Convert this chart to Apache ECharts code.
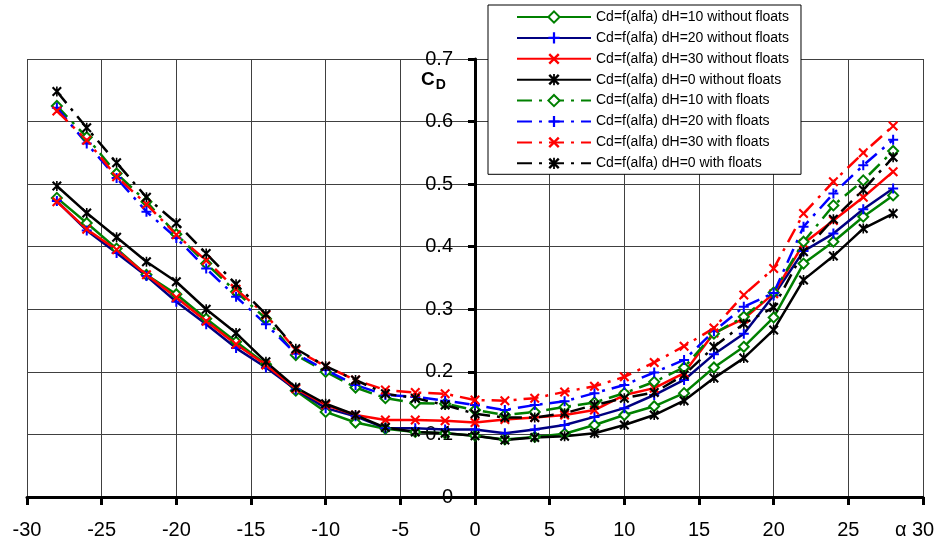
<!DOCTYPE html>
<html>
<head>
<meta charset="utf-8">
<script src="https://cdn.jsdelivr.net/npm/echarts@6/dist/echarts.min.js"></script>
<style>html,body{margin:0;padding:0;background:#fff}#c{width:945px;height:548px}</style>
</head>
<body>
<div id="c"></div>
<script>
// angle of attack, degrees
const alpha = [-28,-26,-24,-22,-20,-18,-16,-14,-12,-10,-8,-6,-4,-2,0,2,4,6,8,10,12,14,16,18,20,22,24,26,28];

// without floats (solid)
const cdH10 = [0.478,0.438,0.397,0.355,0.324,0.285,0.248,0.212,0.170,0.136,0.119,0.109,0.104,0.102,0.098,0.092,0.096,0.101,0.115,0.131,0.145,0.166,0.207,0.240,0.287,0.373,0.408,0.448,0.482];
const cdH20 = [0.473,0.426,0.390,0.353,0.312,0.276,0.238,0.207,0.172,0.142,0.129,0.110,0.110,0.108,0.108,0.102,0.108,0.115,0.128,0.142,0.163,0.187,0.228,0.261,0.322,0.393,0.421,0.460,0.493];
const cdH30 = [0.472,0.428,0.395,0.355,0.319,0.281,0.244,0.211,0.173,0.147,0.131,0.123,0.123,0.122,0.119,0.124,0.127,0.131,0.139,0.163,0.174,0.198,0.262,0.285,0.325,0.405,0.442,0.479,0.520];
const cdH0  = [0.497,0.454,0.415,0.376,0.344,0.300,0.262,0.216,0.175,0.149,0.131,0.111,0.104,0.102,0.098,0.091,0.095,0.097,0.102,0.115,0.131,0.154,0.190,0.222,0.267,0.347,0.385,0.429,0.453];

// with floats (dashed)
const cdH10f = [0.625,0.575,0.517,0.472,0.420,0.373,0.328,0.285,0.227,0.200,0.175,0.158,0.150,0.149,0.139,0.131,0.136,0.144,0.151,0.166,0.184,0.207,0.261,0.288,0.327,0.408,0.466,0.506,0.553];
const cdH20f = [0.622,0.565,0.510,0.456,0.414,0.365,0.320,0.276,0.229,0.203,0.179,0.163,0.160,0.154,0.147,0.139,0.147,0.153,0.166,0.179,0.199,0.219,0.265,0.304,0.326,0.432,0.485,0.530,0.571];
const cdH30f = [0.617,0.570,0.512,0.468,0.419,0.378,0.332,0.291,0.235,0.209,0.187,0.171,0.167,0.165,0.155,0.154,0.158,0.168,0.177,0.192,0.215,0.241,0.270,0.323,0.365,0.453,0.504,0.550,0.593];
const cdH0f  = [0.648,0.590,0.534,0.479,0.438,0.389,0.340,0.292,0.237,0.209,0.187,0.165,0.158,0.147,0.133,0.127,0.127,0.134,0.147,0.158,0.167,0.195,0.240,0.277,0.303,0.392,0.444,0.491,0.543];

const names = [
  'Cd=f(alfa) dH=10 without floats',
  'Cd=f(alfa) dH=20 without floats',
  'Cd=f(alfa) dH=30 without floats',
  'Cd=f(alfa) dH=0 without floats',
  'Cd=f(alfa) dH=10 with floats',
  'Cd=f(alfa) dH=20 with floats',
  'Cd=f(alfa) dH=30 with floats',
  'Cd=f(alfa) dH=0 with floats'
];
const xTicks = [-30,-25,-20,-15,-10,-5,0,5,10,15,20,25,30];
const yTicks = [0,0.1,0.2,0.3,0.4,0.5,0.6,0.7];

const SYM_PLUS = 'path://M4,0H6V10H4ZM0,4H10V6H0Z';
const SYM_X = 'path://M0,1.5L1.5,0L10,8.5L8.5,10ZM8.5,0L10,1.5L1.5,10L0,8.5Z';
const SYM_STAR = 'path://M0,1.5L1.5,0L10,8.5L8.5,10ZM8.5,0L10,1.5L1.5,10L0,8.5ZM4.2,0H5.8V10H4.2Z';
const DASH = [15,7,3,7];

function pairs(arr){ return alpha.map((a,i)=>[a,arr[i]]); }

function mk(name, data, lineColor, markColor, symbol, dashed){
  const hollow = symbol === 'diamond';
  return {
    name: name, type: 'line', data: pairs(data),
    symbol: symbol, symbolSize: 10,
    showAllSymbol: true,
    lineStyle: {color: lineColor, width: 2.5, type: dashed ? DASH : 'solid'},
    itemStyle: hollow ? {color: '#fff', borderColor: markColor, borderWidth: 2}
                      : {color: markColor, borderWidth: 0},
    emphasis: {disabled: true},
    animation: false
  };
}

const GRID_L = 27, GRID_R = 22;
const plotW = 945 - GRID_L - GRID_R;

const chart = echarts.init(document.getElementById('c'), null, {renderer: 'canvas'});
const FONT = 'Liberation Sans, Arial, sans-serif';
chart.setOption({
  backgroundColor: '#fff',
  animation: false,
  textStyle: {fontFamily: FONT},
  grid: {left: GRID_L, right: GRID_R, top: 59, bottom: 51, containLabel: false},
  legend: {
    orient: 'vertical', left: 488, top: 5,
    padding: [5, 12, 4, 28], itemGap: 6.9, itemWidth: 74, itemHeight: 14,
    backgroundColor: '#fff', borderColor: '#000', borderWidth: 1, borderRadius: 0,
    textStyle: {fontSize: 14, color: '#000', fontFamily: FONT},
    data: names, selectedMode: false
  },
  xAxis: {
    type: 'value', min: xTicks[0], max: xTicks[xTicks.length-1], interval: 5,
    axisLine: {onZero: false, lineStyle: {color: '#000', width: 3}},
    axisTick: {show: true, length: 8, lineStyle: {color: '#000', width: 3}},
    axisLabel: {margin: 23, fontSize: 20, color: '#000', fontFamily: FONT},
    splitLine: {show: true, lineStyle: {color: '#404040', width: 1}}
  },
  yAxis: {
    type: 'value', min: yTicks[0], max: yTicks[yTicks.length-1], interval: 0.1,
    position: 'left',
    offset: -plotW * (0 - xTicks[0]) / (xTicks[xTicks.length-1] - xTicks[0]),
    axisLine: {onZero: false, lineStyle: {color: '#000', width: 3}},
    axisTick: {show: true, length: 7, lineStyle: {color: '#000', width: 3}},
    axisLabel: {margin: 22, fontSize: 20, color: '#000', fontFamily: FONT},
    splitLine: {show: true, lineStyle: {color: '#404040', width: 1}}
  },
  graphic: [
    {type: 'text', left: 421, top: 70, style: {
      text: '{c|C}{d|D}', fill: '#000',
      rich: {c: {fontSize: 19, fontWeight: 'bold', fontFamily: FONT, fill:'#000'},
             d: {fontSize: 14, fontWeight: 'bold', fontFamily: FONT, fill:'#000', padding: [12,0,0,1]}}
    }},
    {type: 'text', left: 895, top: 520, style: {text: 'α', fontSize: 20, fontFamily: FONT, fill: '#000'}}
  ],
  series: [
    mk(names[0], cdH10, '#008000', '#008000', 'diamond', false),
    mk(names[1], cdH20, '#000080', '#0000FF', SYM_PLUS, false),
    mk(names[2], cdH30, '#FF0000', '#FF0000', SYM_X, false),
    mk(names[3], cdH0, '#000000', '#000000', SYM_STAR, false),
    mk(names[4], cdH10f, '#008000', '#008000', 'diamond', true),
    mk(names[5], cdH20f, '#0000FF', '#0000FF', SYM_PLUS, true),
    mk(names[6], cdH30f, '#FF0000', '#FF0000', SYM_X, true),
    mk(names[7], cdH0f, '#000000', '#000000', SYM_STAR, true)
  ]
});
</script>
</body>
</html>
